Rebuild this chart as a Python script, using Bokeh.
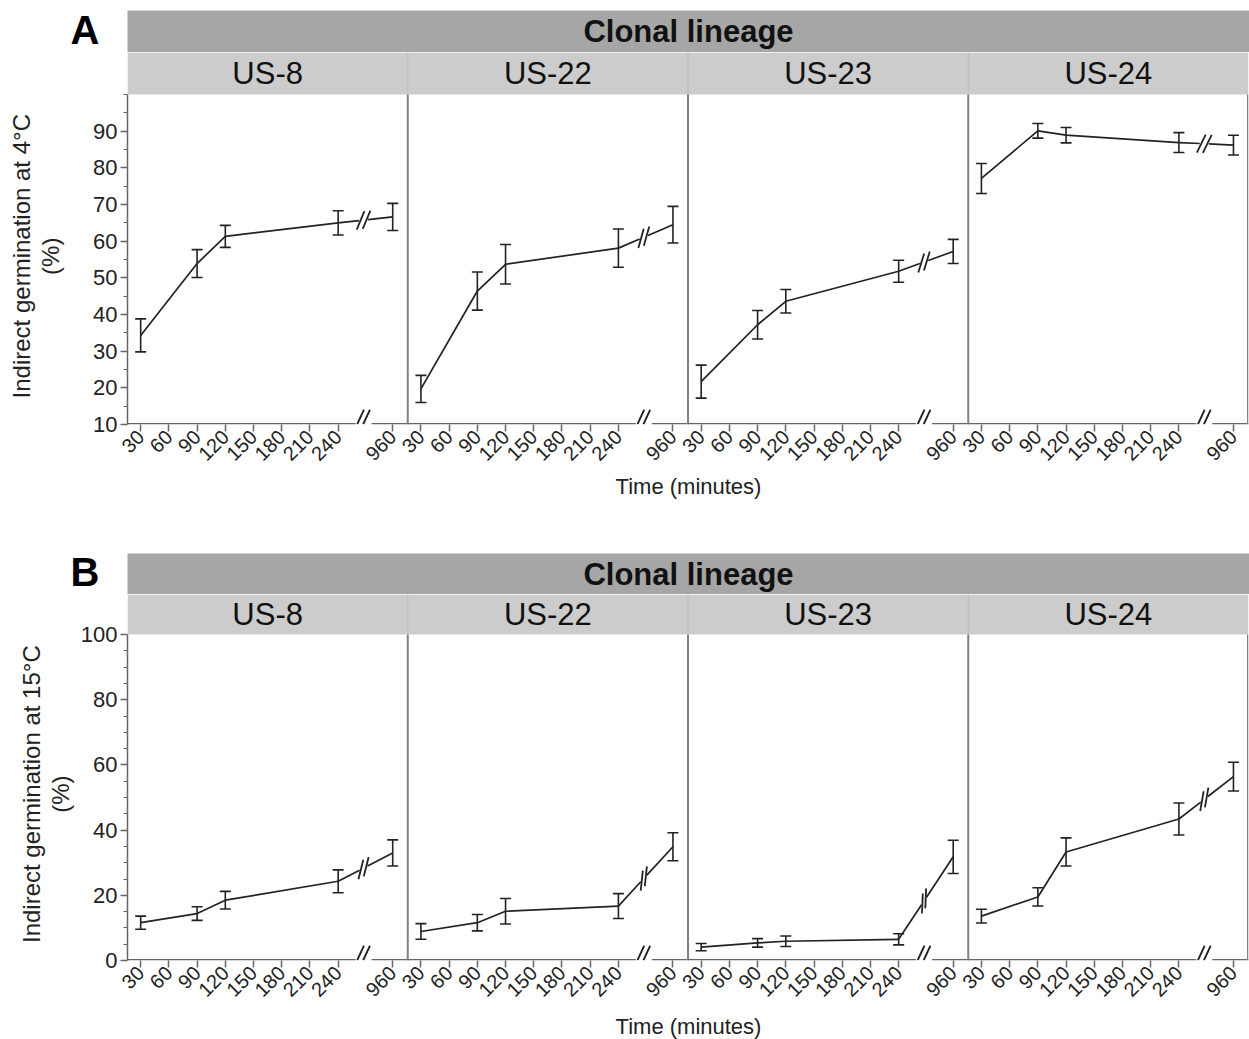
import math
from bokeh.plotting import figure
from bokeh.layouts import column, row
from bokeh.models import Range1d, FixedTicker, ColumnDataSource, Whisker, TeeHead
from bokeh.embed import file_html
from bokeh.resources import INLINE
from bokeh.core.properties import value

# ---------------- data ----------------
lineages = ["US-8", "US-22", "US-23", "US-24"]
times = [30, 90, 120, 240, 960]
x_ticks = [30, 60, 90, 120, 150, 180, 210, 240, 960]

mean_4C = {
    "US-8":  [34.3, 53.9, 61.3, 65.0, 66.6],
    "US-22": [19.7, 46.4, 53.7, 58.1, 64.5],
    "US-23": [21.7, 37.2, 43.6, 51.8, 57.2],
    "US-24": [77.1, 90.1, 88.9, 86.9, 86.2],
}
err_4C = {
    "US-8":  [4.5, 3.8, 3.0, 3.3, 3.7],
    "US-22": [3.7, 5.2, 5.4, 5.2, 5.0],
    "US-23": [4.5, 3.9, 3.2, 3.0, 3.3],
    "US-24": [4.1, 2.0, 2.1, 2.7, 2.7],
}
mean_15C = {
    "US-8":  [11.6, 14.4, 18.5, 24.3, 33.0],
    "US-22": [8.9, 11.6, 15.1, 16.7, 34.9],
    "US-23": [4.1, 5.4, 5.9, 6.5, 31.8],
    "US-24": [13.6, 19.5, 33.3, 43.4, 56.4],
}
err_15C = {
    "US-8":  [2.0, 2.1, 2.7, 3.5, 4.0],
    "US-22": [2.4, 2.5, 3.9, 3.8, 4.3],
    "US-23": [1.1, 1.3, 1.6, 1.7, 5.1],
    "US-24": [2.1, 2.8, 4.3, 4.9, 4.4],
}

# ---------------- styling / layout ----------------
FONT = "Liberation Sans"
AX = "#666666"
SEP = "#808080"
INK = "#222222"
STRIP = "#cccccc"
HEAD = "#a6a6a6"
LAST_REGULAR = 240      # last time on the regular part of the axis
BROKEN_POS = 298        # axis position used for times beyond the break
BREAK_AT = 267          # axis position of the break marks
XS = 16                 # left end of each panel (axis units)
SPAN = 298              # width of a panel (axis units)
XE = XS + 4 * SPAN
FRAME_W = 1121
LEFT_W = 127
YLAB_W = 76
TOTAL_W = 1249


def axis_pos(t):
    return t if t <= LAST_REGULAR else BROKEN_POS


def make_row(means_d, errs_d, y0, ytop, plot_h, strip_h, bottom, yticks, yminor):
    upp = (ytop - y0) / plot_h
    y_end = ytop + strip_h * upp
    px_x = FRAME_W / (XE - XS)
    px_y = 1.0 / upp
    dx = lambda px: px / px_x
    dy = lambda px: px / px_y
    H = plot_h + strip_h + bottom

    p = figure(width=TOTAL_W - YLAB_W, height=H,
               x_range=Range1d(XS, XE), y_range=Range1d(y0, y_end),
               output_backend="svg", toolbar_location=None,
               min_border_left=LEFT_W - YLAB_W, min_border_right=1,
               min_border_top=0, min_border_bottom=bottom)
    p.outline_line_color = None
    p.grid.visible = False
    p.background_fill_color = "white"
    p.border_fill_color = "white"

    # x axis (ticks & labels); the axis line itself is drawn below with its breaks
    xa = p.xaxis[0]
    all_ticks, overrides = [], {}
    for k in range(4):
        for t in x_ticks:
            v = axis_pos(t) + k * SPAN
            all_ticks.append(v)
            overrides[v] = str(t)
    xa.ticker = FixedTicker(ticks=all_ticks)
    xa.major_label_overrides = overrides
    xa.major_label_orientation = math.pi / 4
    xa.axis_line_color = None
    xa.major_tick_line_color = AX
    xa.major_tick_line_width = 1.5
    xa.major_tick_out = 7
    xa.major_tick_in = 0
    xa.minor_tick_line_color = None
    xa.major_label_text_font = FONT
    xa.major_label_text_font_size = "20px"
    xa.major_label_text_color = INK
    xa.major_label_standoff = 2

    ya = p.yaxis[0]
    ya.bounds = (y0, ytop)
    ya.ticker = FixedTicker(ticks=yticks, minor_ticks=yminor)
    ya.axis_line_color = AX
    ya.axis_line_width = 1.5
    ya.major_tick_line_color = AX
    ya.major_tick_line_width = 1.5
    ya.minor_tick_line_color = AX
    ya.minor_tick_line_width = 1.2
    ya.major_tick_out = 7
    ya.major_tick_in = 0
    ya.minor_tick_out = 4
    ya.minor_tick_in = 0
    ya.major_label_text_font = FONT
    ya.major_label_text_font_size = "22px"
    ya.major_label_text_color = INK
    ya.major_label_standoff = 3

    ay = y0 + dy(0.75)
    gap_ax = 8
    m = math.radians(65)
    half = 8.0
    cyb = y0 + dy(7.5)

    for k, name in enumerate(lineages):
        off = k * SPAN
        left, right = XS + off, XS + off + SPAN
        # strip
        p.quad(left=[left], right=[right], bottom=[ytop], top=[y_end],
               fill_color=STRIP, line_color=None)
        if k > 0:
            p.segment(x0=[left], y0=[ytop], x1=[left], y1=[y_end],
                      line_color="#b8b8b8", line_width=1)
            p.segment(x0=[left], y0=[y0], x1=[left], y1=[ytop],
                      line_color=SEP, line_width=2)
        p.text(x=[(left + right) / 2], y=[ytop + strip_h * upp / 2], text=[name],
               text_font=value(FONT), text_font_size=value("31px"),
               text_align="center", text_baseline="middle", text_color="#111111")

        # axis line with break
        bx = BREAK_AT + off
        p.segment(x0=[left, bx + dx(gap_ax)], y0=[ay, ay],
                  x1=[bx - dx(gap_ax), right], y1=[ay, ay],
                  line_color=AX, line_width=1.5)
        bx0, by0, bx1, by1 = [], [], [], []
        for o in (-3.0, 3.0):
            cx = bx + dx(o)
            bx0.append(cx - dx(half * math.cos(m)))
            by0.append(cyb - dy(half * math.sin(m)))
            bx1.append(cx + dx(half * math.cos(m)))
            by1.append(cyb + dy(half * math.sin(m)))
        p.segment(x0=bx0, y0=by0, x1=bx1, y1=by1, line_color=INK, line_width=1.8)

        # data
        means, errs = means_d[name], errs_d[name]
        xs = [axis_pos(t) + off for t in times]
        src = ColumnDataSource(dict(
            x=xs, y=means,
            upper=[mv + e for mv, e in zip(means, errs)],
            lower=[mv - e for mv, e in zip(means, errs)],
        ))
        reg = [j for j, t in enumerate(times) if t <= LAST_REGULAR]
        p.line([xs[j] for j in reg], [means[j] for j in reg], line_color=INK, line_width=1.7)
        p.add_layout(Whisker(source=src, base="x", upper="upper", lower="lower",
                             line_color=INK, line_width=1.6,
                             upper_head=TeeHead(size=11, line_color=INK, line_width=1.6),
                             lower_head=TeeHead(size=11, line_color=INK, line_width=1.6)))

        j = reg[-1]
        xa_, ya_, xb_, yb_ = xs[j], means[j], xs[j + 1], means[j + 1]
        ang = math.atan2((yb_ - ya_) * px_y, (xb_ - xa_) * px_x)
        frac = (bx - xa_) / (xb_ - xa_)
        cx, cy = bx, ya_ + frac * (yb_ - ya_)
        ux, uy = math.cos(ang), math.sin(ang)
        g = 4.5
        p.segment(x0=[xa_, cx + dx(g * ux)], y0=[ya_, cy + dy(g * uy)],
                  x1=[cx - dx(g * ux), xb_], y1=[cy - dy(g * uy), yb_],
                  line_color=INK, line_width=1.7)
        mk = math.radians(65) + 0.4 * ang
        mx, my = math.cos(mk), math.sin(mk)
        hl = 10.0
        lx0, ly0, lx1, ly1 = [], [], [], []
        for o in (-3.0, 3.0):
            ccx, ccy = cx + dx(o * ux), cy + dy(o * uy)
            lx0.append(ccx - dx(hl * mx)); ly0.append(ccy - dy(hl * my))
            lx1.append(ccx + dx(hl * mx)); ly1.append(ccy + dy(hl * my))
        p.segment(x0=lx0, y0=ly0, x1=lx1, y1=ly1, line_color=INK, line_width=1.8)

    # right border of the last panel
    p.segment(x0=[XE - dx(0.75)], y0=[y0], x1=[XE - dx(0.75)], y1=[ytop],
              line_color=SEP, line_width=1.5)
    return p


def make_ylabel(H, center_from_top, line1, x1, x2):
    f = figure(width=YLAB_W, height=H, x_range=Range1d(0, YLAB_W), y_range=Range1d(0, H),
               output_backend="svg", toolbar_location=None, min_border=0,
               x_axis_location=None, y_axis_location=None)
    f.outline_line_color = None
    f.grid.visible = False
    yc = H - center_from_top
    f.text(x=[x1, x2], y=[yc, yc], text=[line1, "(%)"], angle=math.pi / 2,
           text_font=value(FONT), text_font_size=value("24px"),
           text_align="center", text_baseline="middle", text_color=INK)
    return f


def make_header(h_total, off, letter, letter_size, letter_mid):
    f = figure(width=TOTAL_W, height=h_total, x_range=Range1d(0, TOTAL_W),
               y_range=Range1d(0, h_total), output_backend="svg", toolbar_location=None,
               min_border=0, x_axis_location=None, y_axis_location=None)
    f.outline_line_color = None
    f.grid.visible = False
    f.quad(left=[LEFT_W], right=[TOTAL_W], top=[h_total - off], bottom=[0],
           fill_color=HEAD, line_color=None)
    f.text(x=[(LEFT_W + TOTAL_W) / 2], y=[(h_total - off) / 2], text=["Clonal lineage"],
           text_font=value(FONT), text_font_size=value("31px"), text_font_style="bold",
           text_align="center", text_baseline="middle", text_color="#111111")
    f.text(x=[70], y=[h_total - letter_mid], text=[letter],
           text_font=value(FONT), text_font_size=value(letter_size), text_font_style="bold",
           text_align="left", text_baseline="middle", text_color="black")
    return f


def make_xlabel(h):
    f = figure(width=TOTAL_W, height=h, x_range=Range1d(0, TOTAL_W), y_range=Range1d(0, h),
               output_backend="svg", toolbar_location=None, min_border=0,
               x_axis_location=None, y_axis_location=None)
    f.outline_line_color = None
    f.grid.visible = False
    f.text(x=[(LEFT_W + TOTAL_W) / 2], y=[h / 2], text=["Time (minutes)"],
           text_font=value(FONT), text_font_size=value("22px"),
           text_align="center", text_baseline="middle", text_color=INK)
    return f


# Row A
ticks_A = list(range(10, 100, 10))
minor_A = [v for v in range(15, 101, 5) if v % 10 != 0] + [100]
row_A = make_row(mean_4C, err_4C, 10, 100, 330, 42, 48, ticks_A, minor_A)
ylab_A = make_ylabel(420, 207 + 23, "Indirect germination at 4°C", 21, 50)
# Row B
ticks_B = list(range(0, 101, 20))
minor_B = [v for v in range(5, 100, 5) if v % 20 != 0]
row_B = make_row(mean_15C, err_15C, 0, 100, 326, 40, 52, ticks_B, minor_B)
ylab_B = make_ylabel(418, 203 + 25, "Indirect germination at 15°C", 31, 60)

layout = column(
    make_header(52, 10, "A", "40px", 29),
    row(ylab_A, row_A),
    make_xlabel(28),
    make_header(94, 53, "B", "40px", 71),
    row(ylab_B, row_B),
    make_xlabel(27),
)

open("out.html", "w").write(file_html(layout, INLINE))
